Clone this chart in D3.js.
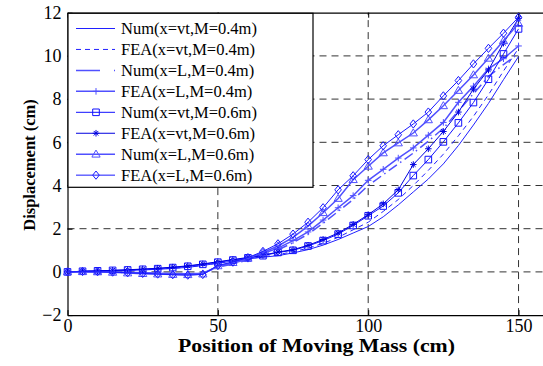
<!DOCTYPE html>
<html lang="en">
<head>
<meta charset="UTF-8">
<title>Displacement vs position of moving mass</title>
<script src="https://d3js.org/d3.v7.min.js"></script>
<style>
    body { margin: 0; background: #fff; }
    svg { display: block; font-family: "Liberation Serif", "Times New Roman", serif; }
    .grid line { stroke: #333; stroke-dasharray: 7,5; }
</style>
</head>
<body>
<div id="chart"></div>
<script>
// positions of the moving mass (cm)
const positions = d3.range(0, 151, 5);

// displacement (cm) for each series
const numVt04 = [0, 0.02, 0.03, 0.05, 0.07, 0.09, 0.12, 0.16, 0.21, 0.3, 0.4, 0.5, 0.6, 0.68, 0.75, 0.88, 1.03, 1.24, 1.5, 1.8, 2.1, 2.55, 3.1, 3.7, 4.3, 5.0, 5.85, 6.8, 7.8, 8.9, 9.97];
const feaVt04 = [0, 0.02, 0.04, 0.05, 0.07, 0.1, 0.13, 0.17, 0.22, 0.31, 0.41, 0.51, 0.61, 0.7, 0.8, 0.93, 1.1, 1.32, 1.6, 1.95, 2.3, 2.8, 3.35, 4.0, 4.7, 5.45, 6.3, 7.2, 8.2, 9.3, 10.35];
const numL04 = [0, 0.01, 0.0, -0.01, -0.03, -0.05, -0.07, -0.08, -0.09, -0.07, 0.22, 0.36, 0.55, 0.78, 1.02, 1.35, 1.75, 2.25, 2.8, 3.35, 4.0, 4.5, 5.0, 5.5, 6.05, 6.65, 7.45, 8.25, 9.05, 9.6, 10.1];
const feaL04 = [0, 0.01, 0.01, 0.0, -0.02, -0.04, -0.06, -0.07, -0.08, -0.06, 0.25, 0.4, 0.6, 0.85, 1.1, 1.45, 1.85, 2.4, 2.97, 3.53, 4.24, 4.75, 5.27, 5.74, 6.33, 6.92, 7.85, 8.6, 9.4, 9.87, 10.46];
const numVt06 = [0, 0.03, 0.05, 0.07, 0.09, 0.12, 0.15, 0.2, 0.26, 0.35, 0.45, 0.55, 0.65, 0.75, 0.9, 1.0, 1.2, 1.45, 1.75, 2.15, 2.6, 3.05, 3.66, 4.46, 5.2, 6.02, 6.9, 7.84, 8.92, 10.09, 11.25];
const feaVt06 = [0, 0.03, 0.05, 0.07, 0.1, 0.13, 0.17, 0.22, 0.28, 0.37, 0.47, 0.57, 0.67, 0.77, 0.92, 1.03, 1.23, 1.5, 1.8, 2.2, 2.65, 3.15, 3.8, 4.97, 5.7, 6.5, 7.4, 8.46, 9.35, 10.59, 11.74];
const numL06 = [0, 0.01, 0.0, -0.02, -0.05, -0.08, -0.1, -0.12, -0.13, -0.1, 0.28, 0.43, 0.63, 0.9, 1.2, 1.6, 2.12, 2.74, 3.4, 4.27, 4.89, 5.51, 5.97, 6.43, 7.04, 7.69, 8.4, 9.12, 9.89, 10.7, 11.5];
const feaL06 = [0, 0.02, 0.01, -0.01, -0.04, -0.07, -0.1, -0.13, -0.15, -0.12, 0.3, 0.46, 0.66, 0.95, 1.3, 1.75, 2.3, 2.97, 3.8, 4.45, 5.2, 5.84, 6.35, 6.85, 7.4, 8.15, 8.86, 9.63, 10.35, 11.05, 11.79];

const seriesNames = [
    "Num(x=vt,M=0.4m)", "FEA(x=vt,M=0.4m)", "Num(x=L,M=0.4m)", "FEA(x=L,M=0.4m)",
    "Num(x=vt,M=0.6m)", "FEA(x=vt,M=0.6m)", "Num(x=L,M=0.6m)", "FEA(x=L,M=0.6m)"
];
const seriesValues = [numVt04, feaVt04, numL04, feaL04, numVt06, feaVt06, numL06, feaL06];

const xTicks = [0, 50, 100, 150];
const yTicks = [-2, 0, 2, 4, 6, 8, 10, 12];

// drawing style per series
const styles = [
    { marker: null, dash: null, color: "#2020ff", width: 1 },
    { marker: null, dash: "5,4", color: "#2020ff", width: 1 },
    { marker: null, dash: "10,4,1.5,4", color: "#5050ff", width: 1.5 },
    { marker: "plus", dash: null, color: "#5050ff", width: 1.5 },
    { marker: "square", dash: null, color: "#1010ff", width: 1 },
    { marker: "star", dash: null, color: "#0000e0", width: 1 },
    { marker: "triangle", dash: null, color: "#5050ff", width: 1.5 },
    { marker: "diamond", dash: null, color: "#1a1aff", width: 1 }
];

const serif = "Liberation Serif, Times New Roman, serif";
const W = 543, H = 366;
const margin = { left: 67.5, top: 12.7, bottom: 315.1 };

const x = d3.scaleLinear().domain([0, 160]).range([margin.left, 548.6]);
const y = d3.scaleLinear().domain([-2, 12]).range([margin.bottom, margin.top]);

const svg = d3.select("#chart").append("svg")
    .attr("width", W)
    .attr("height", H);

// grid
const grid = svg.append("g").attr("class", "grid");
grid.selectAll(".gx").data(xTicks.slice(1)).enter().append("line")
    .attr("x1", d => x(d)).attr("x2", d => x(d))
    .attr("y1", y(-2)).attr("y2", y(12));
grid.selectAll(".gy").data(yTicks.slice(1, -1)).enter().append("line")
    .attr("x1", x(0)).attr("x2", x(160))
    .attr("y1", d => y(d)).attr("y2", d => y(d));

// axes (MATLAB style: ticks inside, box)
const xAxis = svg.append("g")
    .attr("transform", `translate(0,${y(-2)})`)
    .call(d3.axisBottom(x).tickValues(xTicks).tickSizeInner(-5).tickSizeOuter(0).tickPadding(4));
const yAxis = svg.append("g")
    .attr("transform", `translate(${x(0)},0)`)
    .call(d3.axisLeft(y).tickValues(yTicks).tickSizeInner(-5).tickSizeOuter(0).tickPadding(6));
svg.append("g")
    .attr("transform", `translate(0,${y(12)})`)
    .call(d3.axisTop(x).tickValues(xTicks).tickSizeInner(-5).tickSizeOuter(0).tickFormat(""));
[xAxis, yAxis].forEach(a => {
    a.attr("font-family", serif).attr("font-size", 18);
    a.selectAll("text").attr("font-family", serif).attr("font-size", 18).attr("fill", "#000");
    a.selectAll("line, path").attr("stroke", "#000");
});
svg.selectAll(".domain").attr("stroke", "#000").attr("stroke-width", 1.2);
xAxis.selectAll("text").attr("dy", "0.7em");

// markers
function markerPath(type, s) {
    const p = d3.path();
    if (type === "square") {
        p.rect(-s, -s, 2 * s, 2 * s);
    } else if (type === "diamond") {
        const r = s * 1.25;
        p.moveTo(0, -r); p.lineTo(r * 0.8, 0); p.lineTo(0, r); p.lineTo(-r * 0.8, 0); p.closePath();
    } else if (type === "triangle") {
        const r = s * 1.25;
        p.moveTo(0, -r); p.lineTo(r, r * 0.7); p.lineTo(-r, r * 0.7); p.closePath();
    } else if (type === "plus") {
        p.moveTo(-s, 0); p.lineTo(s, 0); p.moveTo(0, -s); p.lineTo(0, s);
    } else if (type === "star") {
        p.moveTo(-s, 0); p.lineTo(s, 0); p.moveTo(0, -s); p.lineTo(0, s);
        const k = s * 0.7;
        p.moveTo(-k, -k); p.lineTo(k, k); p.moveTo(-k, k); p.lineTo(k, -k);
    }
    return p.toString();
}

const line = d3.line().x(d => x(d[0])).y(d => y(d[1]));

const plot = svg.append("g");
seriesValues.forEach((vals, i) => {
    const st = styles[i];
    const pts = positions.map((p, j) => [p, vals[j]]);
    plot.append("path")
        .datum(pts)
        .attr("d", line)
        .attr("fill", "none")
        .attr("stroke", st.color)
        .attr("stroke-width", st.width)
        .attr("stroke-dasharray", st.dash);
    if (st.marker) {
        plot.selectAll(null).data(pts).enter().append("path")
            .attr("transform", d => `translate(${x(d[0])},${y(d[1])})`)
            .attr("d", markerPath(st.marker, 3.3))
            .attr("fill", "none")
            .attr("stroke", st.color)
            .attr("stroke-width", 1);
    }
});

// legend
const legend = svg.append("g");
legend.append("rect")
    .attr("x", 68).attr("y", 13.3)
    .attr("width", 245).attr("height", 174)
    .attr("fill", "#fff")
    .attr("stroke", "#000")
    .attr("stroke-width", 1.2);
seriesNames.forEach((name, i) => {
    const st = styles[i];
    const ly = 28.5 + i * 20.95;
    const g = legend.append("g");
    g.append("line")
        .attr("x1", 76).attr("x2", 115)
        .attr("y1", ly).attr("y2", ly)
        .attr("stroke", st.color)
        .attr("stroke-width", st.width)
        .attr("stroke-dasharray", i === 2 ? "24,14,1.5,10" : st.dash);
    if (st.marker) {
        g.append("path")
            .attr("transform", `translate(96,${ly})`)
            .attr("d", markerPath(st.marker, 3.3))
            .attr("fill", "none")
            .attr("stroke", st.color);
    }
    g.append("text")
        .attr("x", 121).attr("y", ly)
        .attr("dy", "0.33em")
        .attr("font-family", serif)
        .attr("font-size", 16.5)
        .text(name);
});

// axis titles
svg.append("text")
    .attr("x", 316.5).attr("y", 352)
    .attr("text-anchor", "middle")
    .attr("font-family", serif)
    .attr("font-size", 18)
    .attr("font-weight", "bold")
    .attr("textLength", 277)
    .attr("lengthAdjust", "spacingAndGlyphs")
    .text("Position of Moving Mass (cm)");
svg.append("text")
    .attr("transform", "translate(35,165) rotate(-90)")
    .attr("text-anchor", "middle")
    .attr("font-family", serif)
    .attr("font-size", 16.5)
    .attr("font-weight", "bold")
    .text("Displacement (cm)");
</script>
</body>
</html>
